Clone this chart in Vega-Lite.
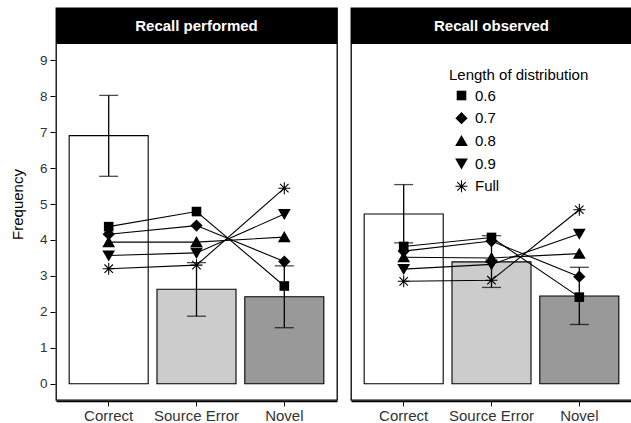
{
  "$schema": "https://vega.github.io/schema/vega-lite/v6.json",
  "padding": {"left": 10, "top": 7, "right": 0, "bottom": 0},
  "background": "white",
  "data": {"values": [
    {"panel": "Recall performed", "type": "bar", "cat": "Correct", "mean": 6.9, "lo": 5.77, "hi": 8.02},
    {"panel": "Recall performed", "type": "bar", "cat": "Source Error", "mean": 2.63, "lo": 1.88, "hi": 3.37},
    {"panel": "Recall performed", "type": "bar", "cat": "Novel", "mean": 2.42, "lo": 1.56, "hi": 3.28},
    {"panel": "Recall observed", "type": "bar", "cat": "Correct", "mean": 4.72, "lo": 3.92, "hi": 5.54},
    {"panel": "Recall observed", "type": "bar", "cat": "Source Error", "mean": 3.39, "lo": 2.68, "hi": 4.12},
    {"panel": "Recall observed", "type": "bar", "cat": "Novel", "mean": 2.44, "lo": 1.65, "hi": 3.24},
    {"panel": "Recall performed", "type": "line", "len": "0.6", "cat": "Correct", "value": 4.37},
    {"panel": "Recall performed", "type": "line", "len": "0.6", "cat": "Source Error", "value": 4.79},
    {"panel": "Recall performed", "type": "line", "len": "0.6", "cat": "Novel", "value": 2.72},
    {"panel": "Recall performed", "type": "line", "len": "0.7", "cat": "Correct", "value": 4.16},
    {"panel": "Recall performed", "type": "line", "len": "0.7", "cat": "Source Error", "value": 4.4},
    {"panel": "Recall performed", "type": "line", "len": "0.7", "cat": "Novel", "value": 3.4},
    {"panel": "Recall performed", "type": "line", "len": "0.8", "cat": "Correct", "value": 3.94},
    {"panel": "Recall performed", "type": "line", "len": "0.8", "cat": "Source Error", "value": 3.94},
    {"panel": "Recall performed", "type": "line", "len": "0.8", "cat": "Novel", "value": 4.08},
    {"panel": "Recall performed", "type": "line", "len": "0.9", "cat": "Correct", "value": 3.57},
    {"panel": "Recall performed", "type": "line", "len": "0.9", "cat": "Source Error", "value": 3.64},
    {"panel": "Recall performed", "type": "line", "len": "0.9", "cat": "Novel", "value": 4.72},
    {"panel": "Recall performed", "type": "line", "len": "Full", "cat": "Correct", "value": 3.2},
    {"panel": "Recall performed", "type": "line", "len": "Full", "cat": "Source Error", "value": 3.3},
    {"panel": "Recall performed", "type": "line", "len": "Full", "cat": "Novel", "value": 5.44},
    {"panel": "Recall observed", "type": "line", "len": "0.6", "cat": "Correct", "value": 3.82},
    {"panel": "Recall observed", "type": "line", "len": "0.6", "cat": "Source Error", "value": 4.07},
    {"panel": "Recall observed", "type": "line", "len": "0.6", "cat": "Novel", "value": 2.41},
    {"panel": "Recall observed", "type": "line", "len": "0.7", "cat": "Correct", "value": 3.69},
    {"panel": "Recall observed", "type": "line", "len": "0.7", "cat": "Source Error", "value": 3.97},
    {"panel": "Recall observed", "type": "line", "len": "0.7", "cat": "Novel", "value": 2.98},
    {"panel": "Recall observed", "type": "line", "len": "0.8", "cat": "Correct", "value": 3.52},
    {"panel": "Recall observed", "type": "line", "len": "0.8", "cat": "Source Error", "value": 3.5},
    {"panel": "Recall observed", "type": "line", "len": "0.8", "cat": "Novel", "value": 3.62},
    {"panel": "Recall observed", "type": "line", "len": "0.9", "cat": "Correct", "value": 3.19},
    {"panel": "Recall observed", "type": "line", "len": "0.9", "cat": "Source Error", "value": 3.32},
    {"panel": "Recall observed", "type": "line", "len": "0.9", "cat": "Novel", "value": 4.17},
    {"panel": "Recall observed", "type": "line", "len": "Full", "cat": "Correct", "value": 2.85},
    {"panel": "Recall observed", "type": "line", "len": "Full", "cat": "Source Error", "value": 2.88},
    {"panel": "Recall observed", "type": "line", "len": "Full", "cat": "Novel", "value": 4.84}
  ]},
  "facet": {"column": {"field": "panel", "type": "nominal", "sort": ["Recall performed", "Recall observed"], "header": null}},
  "spacing": 12,
  "spec": {
    "width": 281,
    "height": 392,
    "encoding": {
      "x": {"field": "cat", "type": "nominal", "sort": ["Correct", "Source Error", "Novel"],
            "scale": {"paddingInner": 0.1, "paddingOuter": 0.15},
            "axis": {"title": null, "labelAngle": 0}}
    },
    "layer": [
      {
        "transform": [{"filter": "datum.type === 'bar'"}],
        "mark": {"type": "bar", "stroke": "black", "strokeWidth": 1.1},
        "encoding": {
          "y": {"field": "mean", "type": "quantitative", "scale": {"domain": [-0.45, 10.45], "nice": false, "zero": false},
                "axis": {"values": [0, 1, 2, 3, 4, 5, 6, 7, 8, 9], "title": "Frequency"}},
          "y2": {"datum": 0},
          "fill": {"field": "cat", "type": "nominal", "scale": {"domain": ["Correct", "Source Error", "Novel"], "range": ["#ffffff", "#cccccc", "#999999"]}, "legend": null}
        }
      },
      {
        "transform": [{"filter": "datum.type === 'bar'"}],
        "mark": {"type": "rule", "color": "black", "strokeWidth": 1.3},
        "encoding": {
          "y": {"field": "lo", "type": "quantitative"},
          "y2": {"field": "hi"}
        }
      },
      {
        "transform": [{"filter": "datum.type === 'bar'"}],
        "mark": {"type": "tick", "color": "black", "size": 19, "thickness": 1.3},
        "encoding": {"y": {"field": "lo", "type": "quantitative"}}
      },
      {
        "transform": [{"filter": "datum.type === 'bar'"}],
        "mark": {"type": "tick", "color": "black", "size": 19, "thickness": 1.3},
        "encoding": {"y": {"field": "hi", "type": "quantitative"}}
      },
      {
        "transform": [{"filter": "datum.type === 'line'"}],
        "mark": {"type": "line", "color": "black", "strokeWidth": 1.1},
        "encoding": {
          "y": {"field": "value", "type": "quantitative"},
          "detail": {"field": "len", "type": "nominal"}
        }
      },
      {
        "transform": [{"filter": "datum.type === 'line'"}],
        "mark": {"type": "point", "filled": true, "fill": "black", "strokeWidth": 0, "opacity": 1, "size": 144},
        "encoding": {
          "y": {"field": "value", "type": "quantitative"},
          "shape": {"field": "len", "type": "nominal",
                    "scale": {"domain": ["0.6", "0.7", "0.8", "0.9", "Full"],
                              "range": ["M-0.8,-0.8H0.8V0.8H-0.8Z",
                                        "M0,-1.02L1.02,0L0,1.02L-1.02,0Z",
                                        "M0,-1.0L1.06,0.84L-1.06,0.84Z",
                                        "M0,1.0L1.06,-0.84L-1.06,-0.84Z",
                                        "M-0.09,-1L0.09,-1L0.09,1L-0.09,1ZM-1,-0.09L1,-0.09L1,0.09L-1,0.09ZM-0.77,-0.64L-0.64,-0.77L0.77,0.64L0.64,0.77ZM0.64,-0.77L0.77,-0.64L-0.64,0.77L-0.77,0.64Z"]},
                    "legend": {"title": "Length of distribution", "orient": "none", "legendX": 393, "legendY": 60,
                               "titleFontSize": 15, "titleFontWeight": "normal", "titleColor": "black", "titlePadding": 5,
                               "labelFontSize": 15, "labelColor": "black", "labelOffset": 6,
                               "symbolSize": 144, "symbolFillColor": "black", "symbolStrokeWidth": 0,
                               "symbolOffset": 5, "rowPadding": 6.7, "padding": 0,
                               "encode": {"symbols": {"update": {"fill": {"value": "black"}, "opacity": {"value": 1}, "strokeWidth": {"value": 0}}}}}}
        }
      },
      {
        "transform": [{"filter": "datum.type === 'bar' && datum.cat === 'Correct'"}],
        "mark": {"type": "rect", "color": "black"},
        "encoding": {
          "x": {"value": 0},
          "x2": {"value": "width"},
          "y": {"datum": 9.45, "type": "quantitative"},
          "y2": {"datum": 10.45}
        }
      },
      {
        "transform": [{"filter": "datum.type === 'bar' && datum.cat === 'Correct'"}],
        "mark": {"type": "text", "color": "white", "fontWeight": "bold", "fontSize": 15, "baseline": "middle", "align": "center"},
        "encoding": {
          "x": {"datum": "Source Error"},
          "y": {"datum": 9.95, "type": "quantitative"},
          "text": {"field": "panel"}
        }
      }
    ]
  },
  "config": {
    "font": "Liberation Sans",
    "view": {"stroke": "black", "strokeWidth": 1.3},
    "axis": {"grid": false, "labelFontSize": 13.5, "labelColor": "#333333", "tickColor": "black", "tickSize": 5, "labelPadding": 3,
             "titleFontSize": 15, "titleFontWeight": "normal", "titleColor": "black"},
    "axisY": {"domain": false, "titlePadding": 14},
    "axisX": {"domain": true, "domainColor": "black", "domainWidth": 1.5, "labelPadding": 2, "labelFontSize": 15}
  }
}
